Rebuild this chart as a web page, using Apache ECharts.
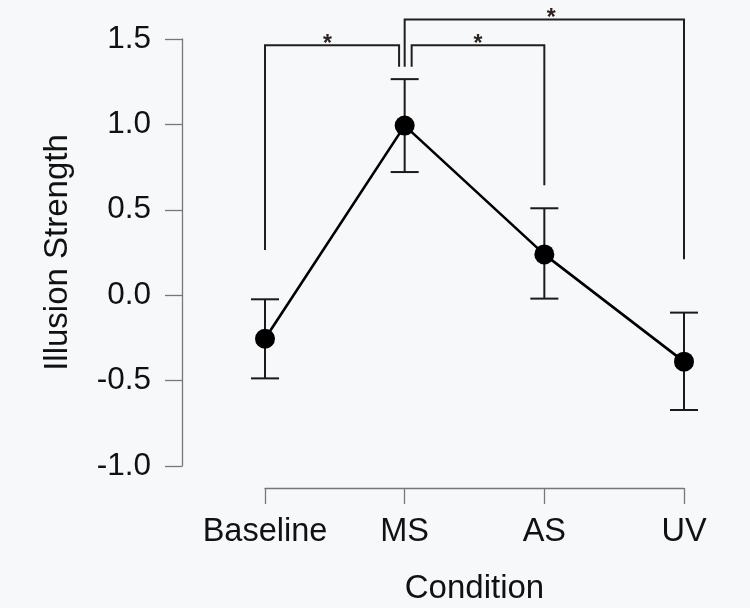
<!DOCTYPE html>
<html>
<head>
<meta charset="utf-8">
<style>
  html, body { margin: 0; padding: 0; background: #f6f8f9; }
  #chart { width: 750px; height: 608px; }
</style>
<script src="https://cdn.jsdelivr.net/npm/echarts@6/dist/echarts.min.js"></script>
</head>
<body>
<div id="chart"></div>
<script>
// ---- data ----
const categories = ['Baseline', 'MS', 'AS', 'UV'];
const means = [-0.255, 0.993, 0.239, -0.389];
const errLow = [-0.487, 0.721, -0.020, -0.672];
const errHigh = [-0.024, 1.265, 0.509, -0.102];
const yMin = -1.0, yMax = 1.5, yStep = 0.5;
// significance brackets
const bracketLeftX = [0, 1.05, 1.0];
const bracketRightX = [0.96, 2.0, 3.0];
const bracketTop = [1.464, 1.464, 1.614];
const bracketLeftBottom = [0.265, 1.338, 1.338];
const bracketRightBottom = [1.338, 0.644, 0.21];
const starX = [0.448, 1.524, 2.05];
const starText = ['*', '*', '*'];

const FONT = 'Liberation Sans, Arial, Helvetica, sans-serif';
const INK = '#111';

const chart = echarts.init(document.getElementById('chart'));

const pointData = categories.map((c, i) => [i, means[i]]);
const errData = categories.map((c, i) => [i, errLow[i], errHigh[i]]);
const bracketData = bracketLeftX.map((x, i) => [x, bracketRightX[i], bracketTop[i], bracketLeftBottom[i], bracketRightBottom[i], starX[i], i]);

chart.setOption({
  backgroundColor: '#f6f8f9',
  animation: false,
  grid: { left: 265, right: 66, top: 39, bottom: 142, containLabel: false, outerBoundsMode: 'none' },
  xAxis: {
    type: 'value', min: 0, max: categories.length - 1, interval: 1,
    offset: 22,
    name: 'Condition', nameLocation: 'middle', nameGap: 84,
    nameTextStyle: { fontFamily: FONT, fontSize: 33, color: INK },
    axisLine: { show: true, onZero: false, lineStyle: { color: '#777', width: 1.3 } },
    axisTick: { show: true, length: 16, lineStyle: { color: '#777', width: 1.3 } },
    axisLabel: {
      margin: 28, fontFamily: FONT, fontSize: 32.5, color: INK,
      formatter: v => categories[v] || ''
    },
    splitLine: { show: false }
  },
  yAxis: {
    type: 'value', min: yMin, max: yMax, interval: yStep,
    offset: 83,
    name: 'Illusion Strength', nameLocation: 'middle', nameGap: 108, nameRotate: 90,
    nameTextStyle: { fontFamily: FONT, fontSize: 33, color: INK },
    axisLine: { show: true, onZero: false, lineStyle: { color: '#777', width: 1.3 } },
    axisTick: { show: true, length: 17, lineStyle: { color: '#777', width: 1.3 } },
    axisLabel: {
      margin: 31, fontFamily: FONT, fontSize: 31.5, color: INK,
      formatter: v => v.toFixed(1)
    },
    splitLine: { show: false }
  },
  series: [
    {
      type: 'custom', name: 'err', clip: false, z: 2,
      data: errData,
      renderItem: (params, api) => {
        const x = api.value(0);
        const lo = api.coord([x, api.value(1)]);
        const hi = api.coord([x, api.value(2)]);
        const cap = 14;
        const style = { stroke: '#1a1a1a', lineWidth: 2, fill: null };
        return {
          type: 'group',
          children: [
            { type: 'line', shape: { x1: lo[0], y1: lo[1], x2: hi[0], y2: hi[1] }, style },
            { type: 'line', shape: { x1: hi[0] - cap, y1: hi[1], x2: hi[0] + cap, y2: hi[1] }, style },
            { type: 'line', shape: { x1: lo[0] - cap, y1: lo[1], x2: lo[0] + cap, y2: lo[1] }, style }
          ]
        };
      }
    },
    {
      type: 'line', name: 'mean', z: 3,
      data: pointData,
      symbol: 'circle', symbolSize: 20,
      itemStyle: { color: '#000' },
      lineStyle: { color: '#000', width: 2.6 }
    },
    {
      type: 'custom', name: 'brackets', clip: false, z: 2,
      data: bracketData,
      renderItem: (params, api) => {
        const x1 = api.value(0), x2 = api.value(1), top = api.value(2);
        const b1 = api.value(3), b2 = api.value(4), sx = api.value(5);
        const p1 = api.coord([x1, b1]);
        const p2 = api.coord([x1, top]);
        const p3 = api.coord([x2, top]);
        const p4 = api.coord([x2, b2]);
        const s = api.coord([sx, top]);
        return {
          type: 'group',
          children: [
            { type: 'polyline', shape: { points: [p1, p2, p3, p4] },
              style: { stroke: '#1f1f1f', lineWidth: 2, fill: null } },
            { type: 'text', x: s[0], y: s[1] - 0.5,
              style: { text: starText[api.value(6)], fontFamily: FONT, fontSize: 23, fontWeight: 'bold', fill: '#2a2320',
                       align: 'center', verticalAlign: 'middle' } }
          ]
        };
      }
    }
  ]
});
</script>
</body>
</html>
